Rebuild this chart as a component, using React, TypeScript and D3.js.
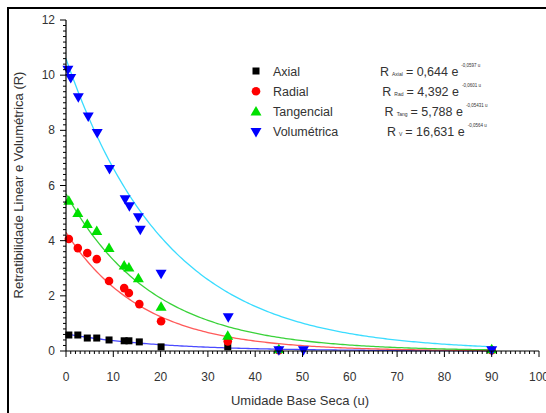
import React from "react";
import * as d3 from "d3";

const seriesNames = ["Axial", "Radial", "Tangencial", "Volumétrica"];
const axialU = [0.6, 2.5, 4.5, 6.5, 9.1, 12.3, 13.3, 15.5, 20.1, 34.2];
const axialR = [0.58, 0.58, 0.47, 0.47, 0.4, 0.37, 0.37, 0.33, 0.15, 0.15];
const radialU = [0.6, 2.5, 4.5, 6.5, 9.1, 12.3, 13.3, 15.5, 20.1, 34.2, 45, 90];
const radialR = [4.06, 3.73, 3.55, 3.33, 2.54, 2.28, 2.1, 1.7, 1.08, 0.35, 0.03, 0.03];
const tangU = [0.6, 2.5, 4.5, 6.5, 9.1, 12.3, 13.3, 15.3, 20.1, 34.2, 45, 90];
const tangR = [5.45, 5.0, 4.6, 4.35, 3.73, 3.1, 3.03, 2.64, 1.6, 0.55, 0.06, 0.06];
const volU = [0.4, 1.0, 2.6, 4.7, 6.6, 9.2, 12.5, 13.4, 15.3, 15.7, 20.1, 34.3, 45, 50.2, 90];
const volR = [10.2, 9.9, 9.2, 8.5, 7.9, 6.6, 5.5, 5.25, 4.85, 4.4, 2.8, 1.22, 0.03, 0.03, 0.03];
const fitA = [0.62, 4.3, 5.7, 10.6];
const fitK = [0.05, 0.062, 0.0545, 0.047];
const eqSub = ["Axial", "Rad", "Tang", "V"];
const eqCoef = ["0,644", "4,392", "5,788", "16,631"];
const eqExp = ["-0,0597 u", "-0,0601 u", "-0,05431 u", "-0,0564 u"];
const xTicks = [0, 10, 20, 30, 40, 50, 60, 70, 80, 90, 100];
const yTicks = [0, 2, 4, 6, 8, 10, 12];

const markerColors = ["#000000", "#ff0000", "#00e000", "#0000ff"];
const fitColors = ["#4a4aff", "#ff5a5a", "#3ad23a", "#3adcff"];

function Marker({ kind, x, y, color }: { kind: number; x: number; y: number; color: string }) {
  if (kind === 0) return <rect x={x - 3.5} y={y - 3.5} width={7} height={7} fill={color} />;
  if (kind === 1) return <circle cx={x} cy={y} r={4.3} fill={color} />;
  if (kind === 2)
    return <path d={`M${x},${y - 5.5} L${x + 5.5},${y + 4} L${x - 5.5},${y + 4} Z`} fill={color} />;
  return <path d={`M${x},${y + 5.5} L${x + 5.5},${y - 4} L${x - 5.5},${y - 4} Z`} fill={color} />;
}

export default function App() {
  const W = 546, H = 413;
  const x = d3.scaleLinear().domain([0, 100]).range([66, 539]);
  const y = d3.scaleLinear().domain([0, 12]).range([351, 20]);
  const font = "'Liberation Sans', Arial, sans-serif";
  const uArr = [axialU, radialU, tangU, volU];
  const rArr = [axialR, radialR, tangR, volR];
  const fitU = d3.range(0, 90.01, 0.5);
  const line = d3.line<number>().x((u) => x(u));

  const xMinor = d3.range(0, 101, 1);
  const yMinor = d3.range(0, 12.01, 0.2);

  return (
    <svg width={W} height={H} style={{ position: "absolute", left: 0, top: 0, background: "#fff" }} fontFamily={font}>
      <rect x={8} y={8} width={600} height={500} fill="none" stroke="#000" strokeWidth={2} />
      {fitA.map((a, i) => (
        <path
          key={"fit" + i}
          d={line.y((u) => y(a * Math.exp(-fitK[i] * u)))(fitU) || ""}
          fill="none"
          stroke={fitColors[i]}
          strokeWidth={1.3}
        />
      ))}
      {[0, 1, 2, 3].map((s) =>
        uArr[s].map((u, j) => (
          <Marker key={`m${s}-${j}`} kind={s} x={x(u)} y={y(rArr[s][j])} color={markerColors[s]} />
        ))
      )}
      <line x1={x(0)} x2={x(100)} y1={y(0)} y2={y(0)} stroke="#000" strokeWidth={1.2} />
      <line x1={x(0)} x2={x(0)} y1={y(0)} y2={y(12)} stroke="#000" strokeWidth={1.2} />
      {xMinor.map((u) => (
        <line key={"xm" + u} x1={x(u)} x2={x(u)} y1={y(0)} y2={y(0) + (u % 10 === 0 ? 6 : 3)} stroke="#000" strokeWidth={1} />
      ))}
      {yMinor.map((v, i) => (
        <line key={"ym" + i} x1={x(0)} x2={x(0) - (i % 10 === 0 ? 6 : 3)} y1={y(v)} y2={y(v)} stroke="#000" strokeWidth={1} />
      ))}
      {xTicks.map((t) => (
        <text key={"xt" + t} x={x(t)} y={381} textAnchor="middle" fontSize={12} fill="#333">
          {t}
        </text>
      ))}
      {yTicks.map((t) => (
        <text key={"yt" + t} x={55} y={y(t) + 4} textAnchor="end" fontSize={12} fill="#333">
          {t}
        </text>
      ))}
      <text x={300} y={405} textAnchor="middle" fontSize={13} fill="#333">
        Umidade Base Seca (u)
      </text>
      <text transform={`translate(23,185) rotate(-90)`} textAnchor="middle" fontSize={13} fill="#333">
        Retratibilidade Linear e Volumétrica (R)
      </text>
      {seriesNames.map((n, i) => {
        const ly = 71 + i * 20.3;
        const ex = 380 + i * 2.3;
        return (
          <g key={"lg" + i}>
            <Marker kind={i} x={256} y={ly} color={markerColors[i]} />
            <text x={273} y={ly + 4.5} fontSize={12.5} fill="#333">
              {n}
            </text>
            <text x={ex} y={ly + 4.5} fontSize={12.5} fill="#333">
              R
              <tspan fontSize={5} dx={3}>{eqSub[i]}</tspan>
              <tspan fontSize={12.5} dx={3}>{"= " + eqCoef[i] + " e"}</tspan>
              <tspan fontSize={4.5} dy={-9} dx={3}>{eqExp[i]}</tspan>
            </text>
          </g>
        );
      })}
    </svg>
  );
}
